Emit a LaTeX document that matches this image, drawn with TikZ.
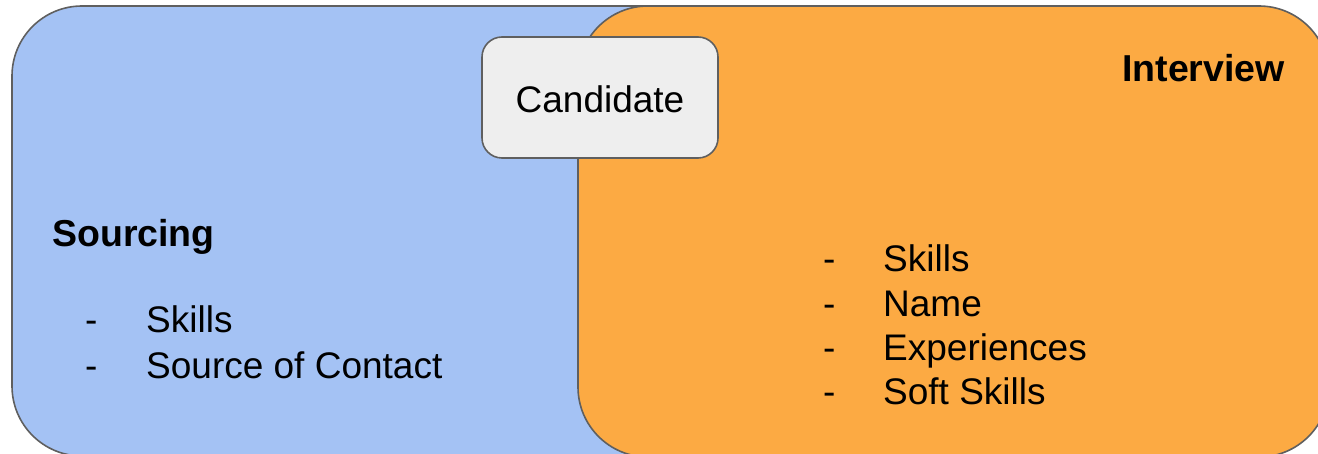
\documentclass[tikz,border=0pt]{standalone}
\usepackage{fontspec}
\setmainfont{Liberation Sans}
\definecolor{srcblue}{HTML}{A4C2F4}
\definecolor{intorange}{HTML}{FCAA43}
\definecolor{candgray}{HTML}{EEEEEE}
\definecolor{edgegray}{HTML}{5F5F5F}
\begin{document}
\begin{tikzpicture}[x=1pt,y=-1pt,
  panel/.style={draw=edgegray, line width=1.6pt, rounded corners=70pt},
  txt/.style={inner sep=0pt, anchor=base west, font=\fontsize{37}{44}\selectfont},
  heading/.style={txt, font=\fontsize{37.5}{44}\selectfont\bfseries},
  candbox/.style={draw=edgegray, fill=candgray, line width=1.6pt, rounded corners=20pt,
    minimum width=236pt, minimum height=121pt, inner sep=0pt, font=\fontsize{37}{44}\selectfont}]
  \useasboundingbox (0,0) rectangle (1318,454);
  \clip (0,0) rectangle (1318,454);
  % the two overlapping stage panels
  \draw[panel, fill=srcblue] (12,6) rectangle (1000,456);
  \draw[panel, fill=intorange] (578,6) rectangle (1329,457);
  % shared element
  \node[candbox] (cand) at (600,97.5) {\raisebox{-2pt}[\height][0pt]{Candidate}};
  % sourcing stage
  \node[heading] (src) at (52,247) {Sourcing};
  \node[txt] (sd1) at (85,333) {-};
  \node[txt] (s1) at (146,333) {Skills};
  \node[txt] (sd2) at (85,378) {-};
  \node[txt] (s2) at (146,378) {Source of Contact};
  % interview stage
  \node[heading, anchor=base east] (int) at (1285,82) {Interview};
  \node[txt] (id1) at (823,272) {-};
  \node[txt] (i1) at (883,272) {Skills};
  \node[txt] (id2) at (823,317) {-};
  \node[txt] (i2) at (883,317) {Name};
  \node[txt] (id3) at (823,361) {-};
  \node[txt] (i3) at (883,361) {Experiences};
  \node[txt] (id4) at (823,405) {-};
  \node[txt] (i4) at (883,405) {Soft Skills};
\end{tikzpicture}
\end{document}
